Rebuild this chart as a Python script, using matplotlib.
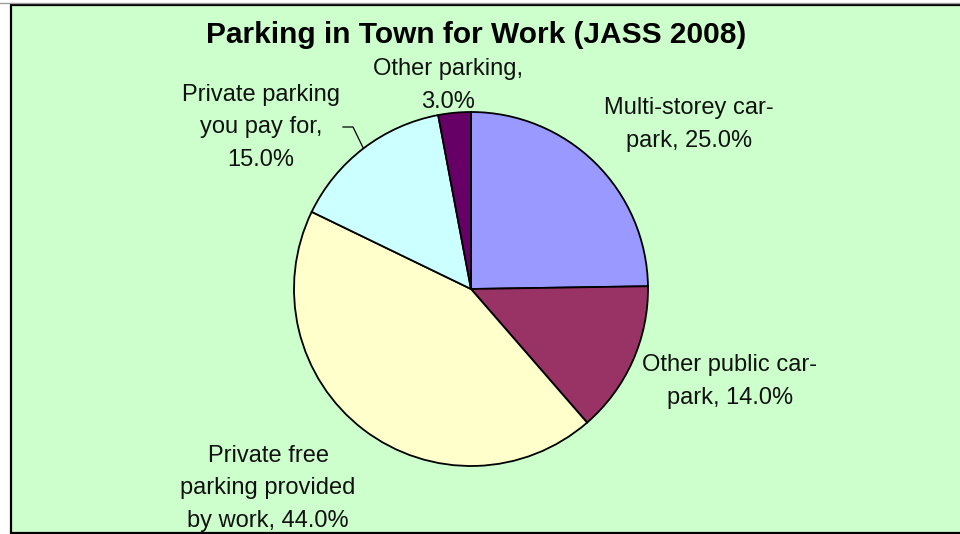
import numpy as np
import matplotlib
matplotlib.use('Agg')
import matplotlib.pyplot as plt
from matplotlib.patches import Rectangle

plt.rcParams['font.family'] = ['Liberation Sans', 'DejaVu Sans']

title = 'Parking in Town for Work (JASS 2008)'
categories = ['Multi-storey car-\npark', 'Other public car-\npark', 'Private free\nparking provided\nby work',
              'Private parking\nyou pay for', 'Other parking']
shares = [25.0, 14.0, 44.0, 15.0, 3.0]
colors = ['#9999FF', '#993366', '#FFFFCC', '#CCFFFF', '#660066']

W, H = 960, 534
fig = plt.figure(figsize=(W / 100, H / 100), dpi=100)
fig.patch.set_facecolor('white')
ax = fig.add_axes([0, 0, 1, 1])

def Y(y):
    return H - y

# chart area frame
ax.add_patch(Rectangle((11, Y(533)), 960, 528, facecolor='#CCFFCC', edgecolor='black', lw=1.6, zorder=0))
ax.plot([0, W], [Y(3), Y(3)], color='#A0A0A0', lw=1, zorder=0)

cx, cy, r = 471, Y(289), 177
wedges, _ = ax.pie(shares, colors=colors, startangle=90, counterclock=False, center=(cx, cy), radius=r,
                   wedgeprops=dict(edgecolor='black', linewidth=1.3), frame=True)
ax.set_xlim(0, W)
ax.set_ylim(0, H)
ax.set_aspect('auto')
ax.axis('off')

ax.text(476, Y(43), title, ha='center', va='baseline', fontsize=21.5, fontweight='bold')

labels = [f'{c}, {v:.1f}%' for c, v in zip(categories, shares)]
labels[3] = 'Private parking\nyou pay for,\n15.0%'
labels[4] = 'Other parking,\n3.0%'
# baseline of the last line of each label
label_pos = [(689, 147), (730, 404), (268, 527), (261, 166), (448, 108)]
for lab, (x, y) in zip(labels, label_pos):
    ax.text(x, Y(y), lab, ha='center', va='baseline', fontsize=17, linespacing=1.62, color='#111111')

# leader line for the "private parking" label
w = wedges[3]
mid = np.deg2rad((w.theta1 + w.theta2) / 2)
ex, ey = cx + r * np.cos(mid), cy + r * np.sin(mid)
ax.plot([343, 353, ex], [Y(127), Y(127), ey], color='black', lw=0.9)

fig.savefig('out.png', dpi=100, facecolor=fig.get_facecolor())
